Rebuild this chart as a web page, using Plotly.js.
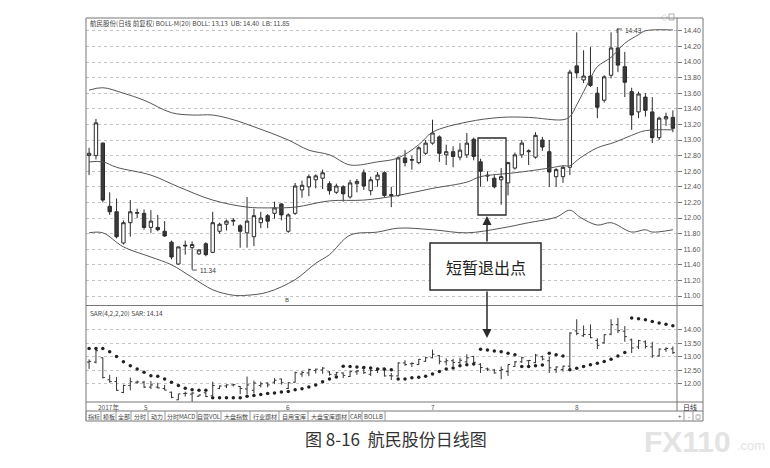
<!DOCTYPE html>
<html><head><meta charset="utf-8">
<script src="https://cdn.plot.ly/plotly-3.0.1.min.js"></script>
<style>html,body{margin:0;padding:0;background:#fff;}#chart{width:770px;height:468px;}</style>
</head><body><div id="chart"></div>
<script>
// ---- data (trading-day index 0..85) ----
const opens  = [12.80,12.80,12.96,12.15,12.08,11.68,11.94,12.06,12.06,11.88,11.88,11.83,11.69,11.41,11.64,11.62,11.54,11.67,11.56,11.83,11.92,11.96,11.90,11.81,11.76,11.94,12.03,12.06,12.18,11.83,12.06,12.36,12.40,12.49,12.51,12.44,12.33,12.40,12.27,12.44,12.58,12.35,12.49,12.58,12.30,12.29,12.77,12.74,12.71,12.83,12.96,13.04,12.81,12.85,12.78,12.81,13.01,12.72,12.55,12.51,12.49,12.45,12.64,12.81,12.85,12.78,13.00,12.85,12.53,12.53,12.65,13.95,13.77,13.82,13.60,13.51,13.83,14.18,13.94,13.62,13.36,13.55,13.36,13.03,13.27,13.29];
const highs  = [12.90,13.27,12.97,12.33,12.25,11.97,12.23,12.12,12.11,12.10,12.04,11.96,11.71,11.63,11.71,11.70,11.60,11.69,12.08,11.94,11.98,12.00,11.92,12.27,12.12,12.08,12.05,12.21,12.19,12.06,12.45,12.48,12.56,12.56,12.62,12.47,12.44,12.42,12.49,12.50,12.62,12.53,12.59,12.60,12.40,12.79,12.87,12.80,12.92,13.00,13.26,13.06,12.94,12.92,12.96,13.09,13.03,12.76,12.60,12.55,12.64,12.72,12.84,13.00,12.88,13.10,13.04,13.00,12.64,12.67,13.90,14.38,14.15,14.19,13.68,13.83,14.38,14.43,14.13,13.67,13.62,13.60,13.55,13.30,13.35,13.38];
const lows   = [12.55,12.75,12.20,12.04,11.74,11.66,11.76,12.00,11.85,11.81,11.83,11.76,11.47,11.40,11.53,11.34,11.53,11.51,11.55,11.80,11.84,11.90,11.62,11.62,11.64,11.87,11.87,11.99,11.97,11.81,12.04,12.26,12.28,12.38,12.37,12.30,12.31,12.21,12.25,12.33,12.36,12.29,12.40,12.27,12.14,12.27,12.66,12.62,12.69,12.81,12.94,12.72,12.68,12.65,12.74,12.77,12.74,12.40,12.47,12.38,12.17,12.29,12.62,12.77,12.68,12.76,12.86,12.40,12.40,12.45,12.55,13.79,13.73,13.68,13.28,13.48,13.79,13.87,13.55,13.13,13.28,13.30,12.96,13.00,13.18,13.10];
const closes = [12.83,13.22,12.23,12.08,11.76,11.94,12.08,12.07,11.88,11.96,11.85,11.77,11.50,11.63,11.65,11.66,11.59,11.53,11.94,11.92,11.96,11.97,11.83,11.96,12.03,12.00,11.96,12.13,12.04,12.04,12.41,12.42,12.53,12.54,12.58,12.35,12.41,12.31,12.45,12.47,12.41,12.49,12.55,12.29,12.29,12.77,12.71,12.75,12.90,12.96,13.09,12.83,12.85,12.79,12.87,12.96,12.79,12.60,12.54,12.40,12.53,12.71,12.81,12.96,12.86,13.06,12.91,12.59,12.62,12.65,13.87,13.86,13.82,13.70,13.42,13.81,14.18,13.96,13.74,13.32,13.59,13.38,13.03,13.28,13.30,13.15];
const sar    = [13.30,13.30,13.30,13.18,13.01,12.81,12.67,12.55,12.43,12.30,12.28,12.18,12.06,11.94,11.84,11.78,11.76,11.76,11.49,11.49,11.49,11.49,11.49,11.54,11.57,11.61,11.64,11.66,11.70,11.72,11.78,11.82,11.88,11.96,12.08,12.18,12.25,12.65,12.64,12.62,12.60,12.58,12.55,12.54,12.52,12.18,12.18,12.22,12.24,12.28,12.36,12.45,12.55,12.58,12.67,12.70,12.73,13.27,13.25,13.21,13.18,13.13,13.07,12.64,12.64,12.67,12.69,13.13,13.07,13.03,12.52,12.57,12.64,12.70,12.76,12.82,12.91,13.03,13.15,14.43,14.40,14.36,14.30,14.24,14.20,14.14];
// Bollinger band lines (index, price) as read
const upX  = [0,2,5,8,12,15,18,21,24,29,32,35,38,42,45,48,50,55,60,64,69,70,71,72,73,74,76,78,80,81,85];
const upV  = [13.64,13.67,13.60,13.51,13.35,13.32,13.32,13.26,13.17,13.00,12.87,12.81,12.68,12.72,12.77,12.94,13.10,13.23,13.29,13.29,13.26,13.30,13.45,13.62,13.79,13.94,14.06,14.24,14.35,14.40,14.41];
const midX = [0,2,4,9,13,18,23,26,30,35,40,45,50,55,57,62,67,69,70,71.5,74,76.5,79,81,85];
const midV = [12.72,12.72,12.65,12.55,12.40,12.23,12.14,12.13,12.14,12.22,12.23,12.29,12.38,12.46,12.53,12.58,12.64,12.67,12.67,12.77,12.90,12.97,13.06,13.12,13.13];
const lowX = [0,2,5,9,12,15,18,21,23,26,30,33,35,38,42,45,50,55,60,64,68,70,71.5,74,76,79,81,82,85];
const lowV = [11.81,11.81,11.63,11.50,11.40,11.24,11.08,11.01,11.01,11.05,11.21,11.42,11.53,11.78,11.82,11.87,11.85,11.81,11.87,11.94,12.01,12.10,12.01,11.91,11.94,11.82,11.85,11.82,11.85];
const topTicks = [11.00,11.20,11.40,11.60,11.80,12.00,12.20,12.40,12.60,12.80,13.00,13.20,13.40,13.60,13.80,14.00,14.20,14.40];
const lowTicks = [12.00,12.50,13.00,13.50,14.00];
const monthIdx = [1, 8.3, 28.9, 50.1, 71];
const monthText = ['2017年','5','6','7','8'];
const tabs = ['指标','模板','全部','分时','动力','分时MACD','自营VOL','大盘指数','行业题材','自用宝库','大盘宝库题材','CAR','BOLLB'];
const tabEdges = [86,101,116,131,148,165,197,221,250,279,308,349,362,385];

const idx = opens.map((_, i) => i);

// ---- pixel helpers for decorations ----
const L = 86, R = 677, T = 18, B = 402;
const px = X => (X - L) / (R - L);
const py = Y => (B - Y) / (B - T);
const ink = '#2a2a2a';
const cjk = '"Noto Sans CJK SC", "Noto Sans", sans-serif';

const traces = [
  {type:'candlestick', x: idx, open: opens, high: highs, low: lows, close: closes,
   xaxis:'x', yaxis:'y', whiskerwidth: 0,
   increasing:{line:{color:ink, width:1}, fillcolor:'#ffffff'},
   decreasing:{line:{color:ink, width:1}, fillcolor:'#3a3a3a'},
   hoverinfo:'skip', showlegend:false},
  {type:'scatter', mode:'lines', x: upX, y: upV, xaxis:'x', yaxis:'y', line:{color:'#555', width:1, shape:'spline'}, hoverinfo:'skip', showlegend:false},
  {type:'scatter', mode:'lines', x: midX, y: midV, xaxis:'x', yaxis:'y', line:{color:'#555', width:1, shape:'spline'}, hoverinfo:'skip', showlegend:false},
  {type:'scatter', mode:'lines', x: lowX, y: lowV, xaxis:'x', yaxis:'y', line:{color:'#555', width:1, shape:'spline'}, hoverinfo:'skip', showlegend:false},
  {type:'ohlc', x: idx, open: opens, high: highs, low: lows, close: closes,
   xaxis:'x', yaxis:'y2', tickwidth: 0.3,
   increasing:{line:{color:'#333', width:1}}, decreasing:{line:{color:'#333', width:1}},
   hoverinfo:'skip', showlegend:false},
  {type:'scatter', mode:'markers', x: idx, y: sar, xaxis:'x', yaxis:'y2',
   marker:{color:'#222', size:3.5}, hoverinfo:'skip', showlegend:false}
];

const shapes = [];
const line = (x0,y0,x1,y1,c,w,d) => shapes.push({type:'line', xref:'paper', yref:'paper', x0:px(x0), y0:py(y0), x1:px(x1), y1:py(y1), line:{color:c||'#666', width:w||1, dash:d||'solid'}});
const rect = (x0,y0,x1,y1,c,w,fill) => shapes.push({type:'rect', xref:'paper', yref:'paper', x0:px(x0), y0:py(y1), x1:px(x1), y1:py(y0), line:{color:c||'#666', width:w||1}, fillcolor: fill||'rgba(0,0,0,0)'});

rect(86,18,703,421,'#777',1);
line(86,305.5,703,305.5,'#777',1);
line(86,402,703,402,'#777',1);
line(86,411,703,411,'#777',1);
line(677,18,677,411,'#777',1);
tabEdges.forEach(e => line(e,411,e,421,'#999',1));
line(684,411,684,421,'#999',1); line(693,411,693,421,'#999',1);
// highlight box and callout box
rect(478,138,506,215,ink,1.3);
rect(430,243,541,290,ink,1.5,'#ffffff');
// pointer for 11.34
line(192,270,197,270,'#333',0.8);
// pointer for 14.43
line(617,29,617,33,'#333',0.8); line(617,29,622,29,'#333',0.8);
// top-right icons
rect(669,14,674,20,'#999',0.8);

const ann = [];
const txt = (X,Y,t,size,anchor,color,family,extra) => ann.push(Object.assign({xref:'paper', yref:'paper', x:px(X), y:py(Y), text:t, showarrow:false, xanchor:anchor||'left', yanchor:'middle', font:{size:size, color:color||'#333', family:family||cjk}}, extra||{}));

txt(88,23,'航民股份(日线 前复权) BOLL-M(20) BOLL: 13.13  UB: 14.40  LB: 11.85',6.5,'left','#444');
txt(88,313,'SAR(4,2,2,20) SAR: 14.14',6.5,'left','#444');
txt(198,270,'11.34',6.5,'left','#333','Liberation Sans, sans-serif');
txt(623,31,'14.43',6.5,'left','#333','Liberation Sans, sans-serif');
txt(287,300,'B',6,'center','#444','Liberation Sans, sans-serif');
txt(664,17,'◇',7,'center','#888');
monthIdx.forEach((m,k) => ann.push({xref:'x', yref:'paper', x:m, y:py(406.5), text:monthText[k], showarrow:false, xanchor: k===0?'left':'center', yanchor:'middle', font:{size:6.5, color:'#555', family:cjk}}));
txt(690,406.5,'日线',7,'center','#333');
tabs.forEach((t,k) => txt((tabEdges[k]+tabEdges[k+1])/2,416,t,6,'center','#444'));
txt(680,416,'+',6,'center','#444'); txt(689,416,'-',6,'center','#444'); txt(698,416,'◎',6,'center','#444');
txt(486,267,'短暂退出点',16,'center','#222');
// arrows
ann.push({xref:'paper', yref:'paper', x:px(487), y:py(216), ax:0, ay:27, text:'', showarrow:true, arrowhead:2, arrowsize:1.2, arrowwidth:1.5, arrowcolor:ink});
ann.push({xref:'paper', yref:'paper', x:px(487), y:py(338), ax:0, ay:-48, text:'', showarrow:true, arrowhead:2, arrowsize:1.2, arrowwidth:1.5, arrowcolor:ink});
txt(396,438,'图 8-16  航民股份日线图',17,'center','#333');
txt(642,441,'<b>FX110</b>',30,'left','#e3e3e3','Liberation Sans, sans-serif');
txt(735,445,'.com',13,'left','#e3e3e3','Liberation Sans, sans-serif');

const layout = {
  width:770, height:468, paper_bgcolor:'#ffffff', plot_bgcolor:'#ffffff',
  margin:{l:L, r:770-R, t:T, b:468-B, pad:0}, showlegend:false, dragmode:false,
  xaxis:{domain:[0,1], range:[-0.45,85.6], anchor:'y2', showticklabels:false, showgrid:false, zeroline:false, showline:false, ticks:'', rangeslider:{visible:false}, fixedrange:true},
  yaxis:{domain:[(B-305)/(B-T),1], range:[10.885,14.564], side:'right', anchor:'x', tickvals:topTicks, ticktext:topTicks.map(v=>v.toFixed(2)),
         tickfont:{size:7, color:'#555', family:'Liberation Sans, sans-serif'}, ticks:'outside', ticklen:4, tickcolor:'#777',
         showgrid:true, gridcolor:'#c4c4c4', griddash:'dot', gridwidth:1, zeroline:false, showline:false, fixedrange:true},
  yaxis2:{domain:[0,(B-306.5)/(B-T)], range:[11.33,14.85], side:'right', anchor:'x', tickvals:lowTicks, ticktext:lowTicks.map(v=>v.toFixed(2)),
         tickfont:{size:7, color:'#555', family:'Liberation Sans, sans-serif'}, ticks:'outside', ticklen:4, tickcolor:'#777',
         showgrid:true, gridcolor:'#c4c4c4', griddash:'dot', gridwidth:1, zeroline:false, showline:false, fixedrange:true},
  shapes: shapes, annotations: ann
};
Plotly.newPlot('chart', traces, layout, {staticPlot:true, displayModeBar:false});
</script></body></html>
